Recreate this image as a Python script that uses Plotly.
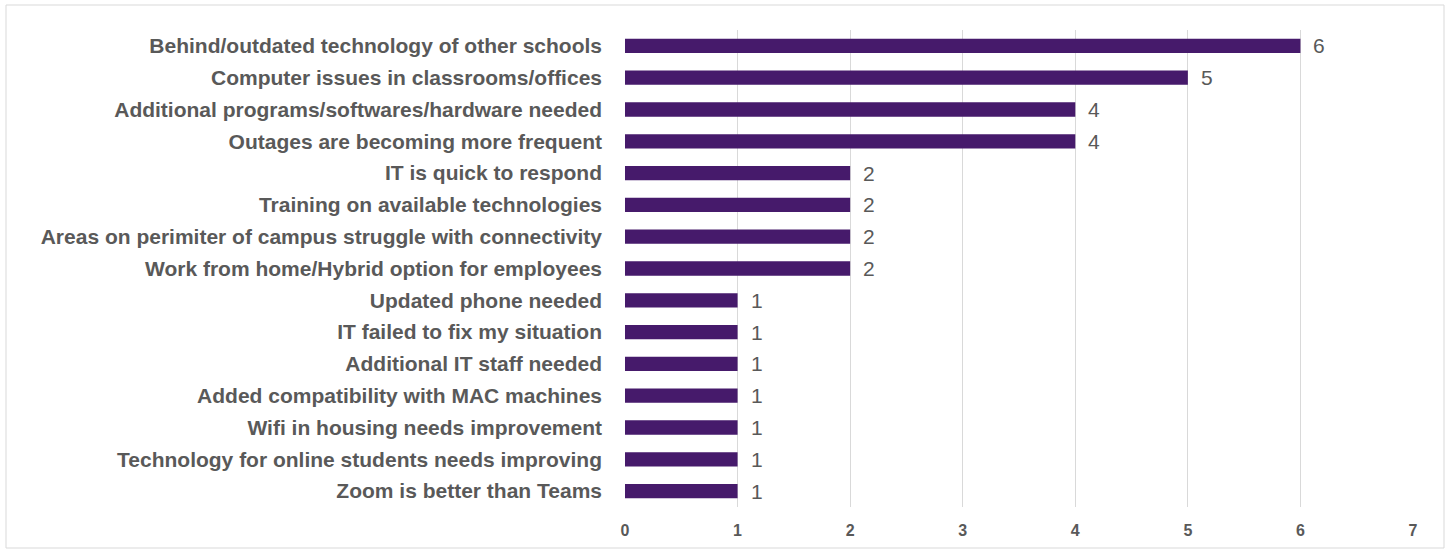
import plotly.graph_objects as go

# Survey comment themes (top to bottom) and number of mentions
categories = [
    "Behind/outdated technology of other schools",
    "Computer issues in classrooms/offices",
    "Additional programs/softwares/hardware needed",
    "Outages are becoming more frequent",
    "IT is quick to respond",
    "Training on available technologies",
    "Areas on perimiter of campus struggle with connectivity",
    "Work from home/Hybrid option for employees",
    "Updated phone needed",
    "IT failed to fix my situation",
    "Additional IT staff needed",
    "Added compatibility with MAC machines",
    "Wifi in housing needs improvement",
    "Technology for online students needs improving",
    "Zoom is better than Teams",
]
counts = [6, 5, 4, 4, 2, 2, 2, 2, 1, 1, 1, 1, 1, 1, 1]
x_ticks = [0, 1, 2, 3, 4, 5, 6, 7]

W, H = 1452, 556
label_font = "Liberation Sans, Arial, sans-serif"
text_grey = "#595959"

fig = go.Figure(
    go.Bar(
        y=categories,
        x=counts,
        orientation="h",
        marker=dict(color="#461A6B", line=dict(width=0)),
        cliponaxis=False,
        hoverinfo="x+y",
    )
)

# value labels just past the end of each bar
for cat, val in zip(categories, counts):
    fig.add_annotation(
        x=val,
        y=cat,
        xref="x",
        yref="y",
        text=str(val),
        showarrow=False,
        xanchor="left",
        yanchor="middle",
        xshift=11,
        font=dict(size=21, color=text_grey, family=label_font),
    )

fig.update_layout(
    width=W,
    height=H,
    margin=dict(l=625, r=39, t=30, b=49),
    paper_bgcolor="white",
    plot_bgcolor="white",
    bargap=0.55,
    showlegend=False,
    font=dict(family=label_font, color=text_grey),
    xaxis=dict(
        range=[0, 7],
        tickvals=x_ticks,
        showgrid=True,
        gridcolor="#D9D9D9",
        gridwidth=1,
        zeroline=False,
        showline=False,
        ticks="",
        tickfont=dict(size=16, color=text_grey, family=label_font, weight="bold"),
        ticklabelstandoff=12,
    ),
    yaxis=dict(
        categoryorder="array",
        categoryarray=categories[::-1],
        showgrid=False,
        zeroline=False,
        showline=False,
        ticks="",
        ticklabelstandoff=22,
        tickfont=dict(size=21, color=text_grey, family=label_font, weight="bold"),
    ),
    shapes=[
        dict(
            type="rect",
            xref="paper",
            yref="paper",
            x0=-619 / (W - 625 - 39),
            x1=1 + 31 / (W - 625 - 39),
            y0=-41 / (H - 30 - 49),
            y1=1 + 25 / (H - 30 - 49),
            line=dict(color="#D9D9D9", width=1),
            fillcolor="rgba(0,0,0,0)",
            layer="below",
        )
    ],
)

fig.write_html("out.html")
